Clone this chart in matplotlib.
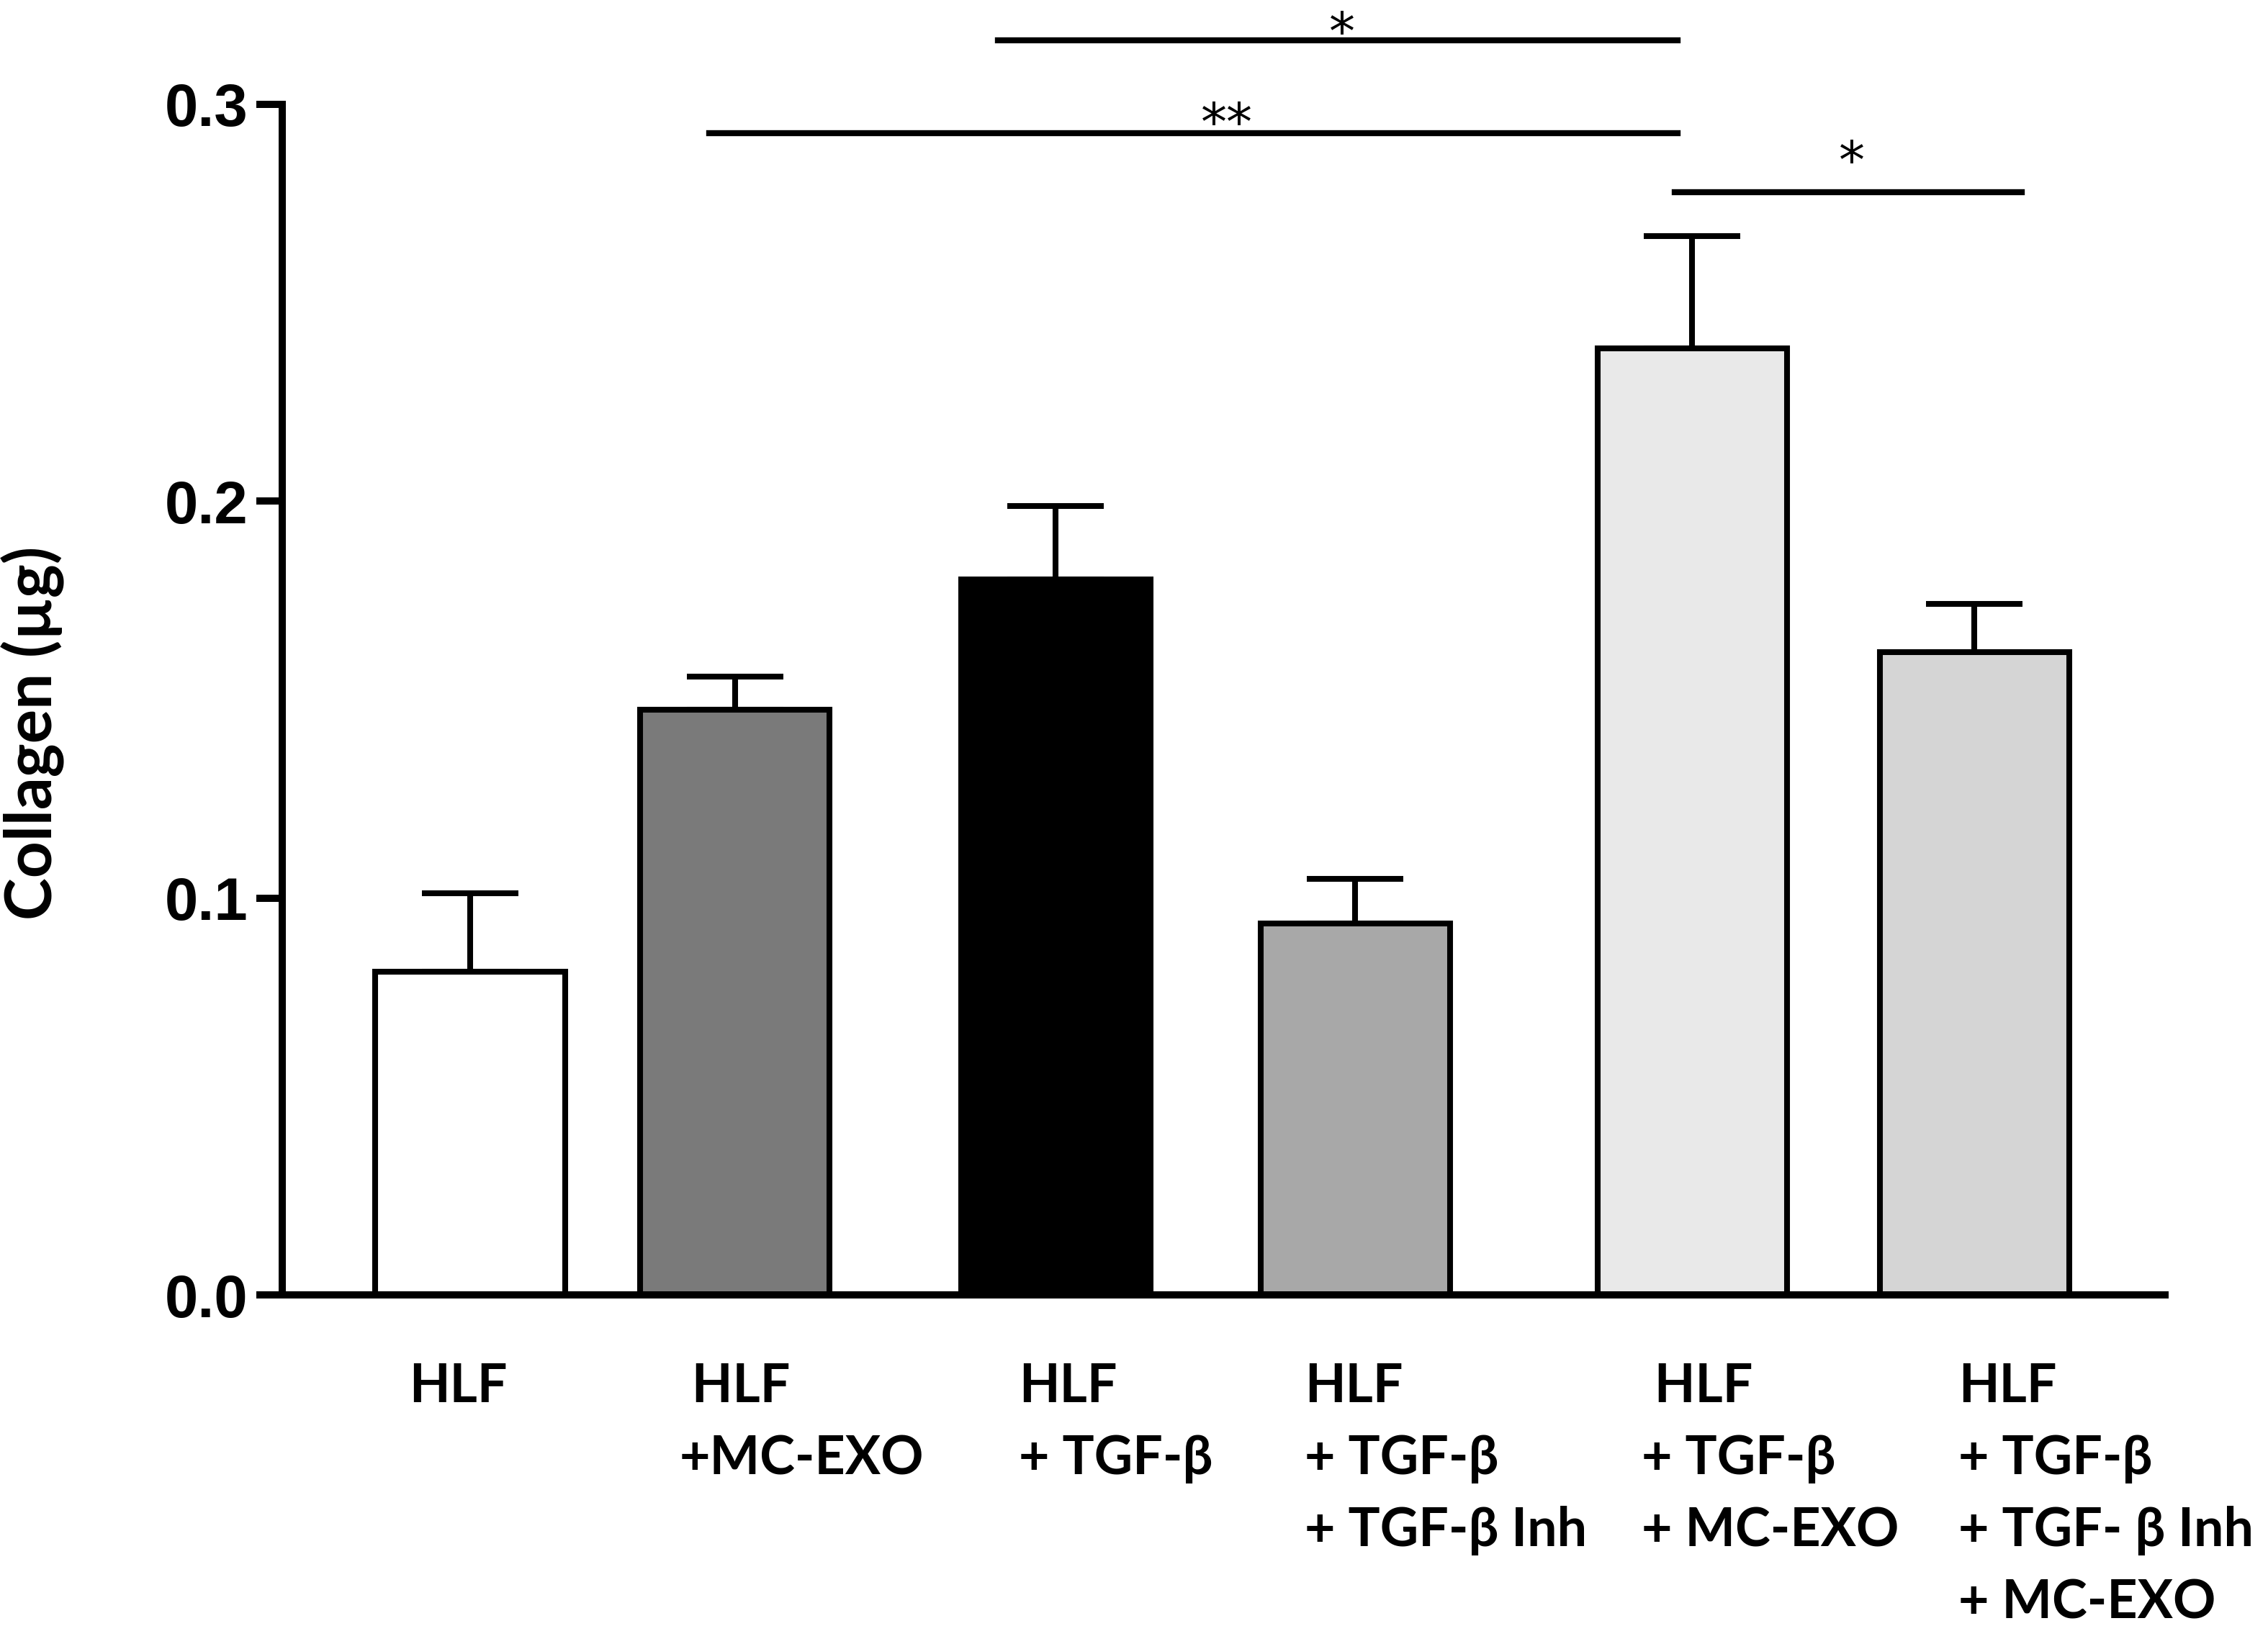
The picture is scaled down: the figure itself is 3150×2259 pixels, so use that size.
import numpy as np
import matplotlib
matplotlib.use('Agg')
import matplotlib.pyplot as plt

# Data
groups = ['HLF',
          ' HLF\n+MC-EXO',
          'HLF\n+ TGF-\u03b2',
          'HLF\n+ TGF-\u03b2\n+ TGF-\u03b2 Inh',
          ' HLF\n+ TGF-\u03b2\n+ MC-EXO',
          'HLF\n+ TGF-\u03b2\n+ TGF- \u03b2 Inh\n+ MC-EXO']
collagen = [0.0815, 0.1474, 0.1802, 0.0936, 0.2384, 0.1620]
sem = [0.0197, 0.0084, 0.0186, 0.0112, 0.0284, 0.0120]
fills = ['#ffffff', '#7a7a7a', '#000000', '#a8a8a8', '#e9e9e9', '#d5d5d5']

# bar positions (uneven spacing as in the original) and label offsets
xpos = [0.0, 1.0, 2.213, 3.344, 4.617, 5.683]
label_dx = [-0.23, -0.21, -0.14, -0.19, -0.19, -0.06]

# significance brackets: (x start, x end, y, text)
brackets = [(1.995, 4.563, 0.3160, '*'),
            (0.902, 4.563, 0.2927, '**'),
            (4.552, 5.863, 0.2778, '*')]
star_x = [3.295, 2.858, 5.219]
star_y = [0.3207, 0.2978, 0.2883]  # centre of the asterisks

fig = plt.figure(figsize=(15.75, 11.295), dpi=200)
ax = fig.add_axes([0.1244, 0.2036, 0.8303, 0.7324])

ax.bar(xpos, collagen, width=0.716, color=fills, edgecolor='black',
       linewidth=2.9, zorder=3)
ax.errorbar(xpos, collagen, yerr=[np.zeros(len(sem)), sem], fmt='none',
            ecolor='black', elinewidth=2.9, capsize=24, capthick=2.9, zorder=2)

ax.set_xlim(-0.71, 6.404)
ax.set_ylim(0, 0.3)
ax.set_yticks([0.0, 0.1, 0.2, 0.3])
ax.set_yticklabels(['0.0', '0.1', '0.2', '0.3'])
ax.set_xticks([])

for side in ['top', 'right']:
    ax.spines[side].set_visible(False)
ax.spines['left'].set_linewidth(3.6)
ax.spines['bottom'].set_linewidth(3.6)
ax.spines['bottom'].set_zorder(4)
ax.tick_params(axis='y', length=13, width=3.6, pad=4)
for t in ax.get_yticklabels():
    t.set_fontfamily('Liberation Sans')
    t.set_fontweight('bold')
    t.set_fontsize(30)

lab_font = ['Lato', 'DejaVu Sans']
for x, dx, g in zip(xpos, label_dx, groups):
    ax.text(x + dx, -0.0168, g, ha='left', va='top', family=lab_font,
            fontweight='bold', fontsize=26.5, linespacing=1.56, clip_on=False)

fig.text(0.0147, 0.549, 'Collagen (\u00b5g)', rotation=90, ha='center',
         va='center', family=lab_font, fontweight='bold', fontsize=32)

for (x0, x1, y, s), sx, sy in zip(brackets, star_x, star_y):
    ax.plot([x0, x1], [y, y], color='black', lw=3, clip_on=False)
    ax.text(sx, sy - 0.0068, s, ha='center', va='baseline',
            fontsize=26, family='DejaVu Sans', clip_on=False)

fig.savefig('out.png', dpi=200)
